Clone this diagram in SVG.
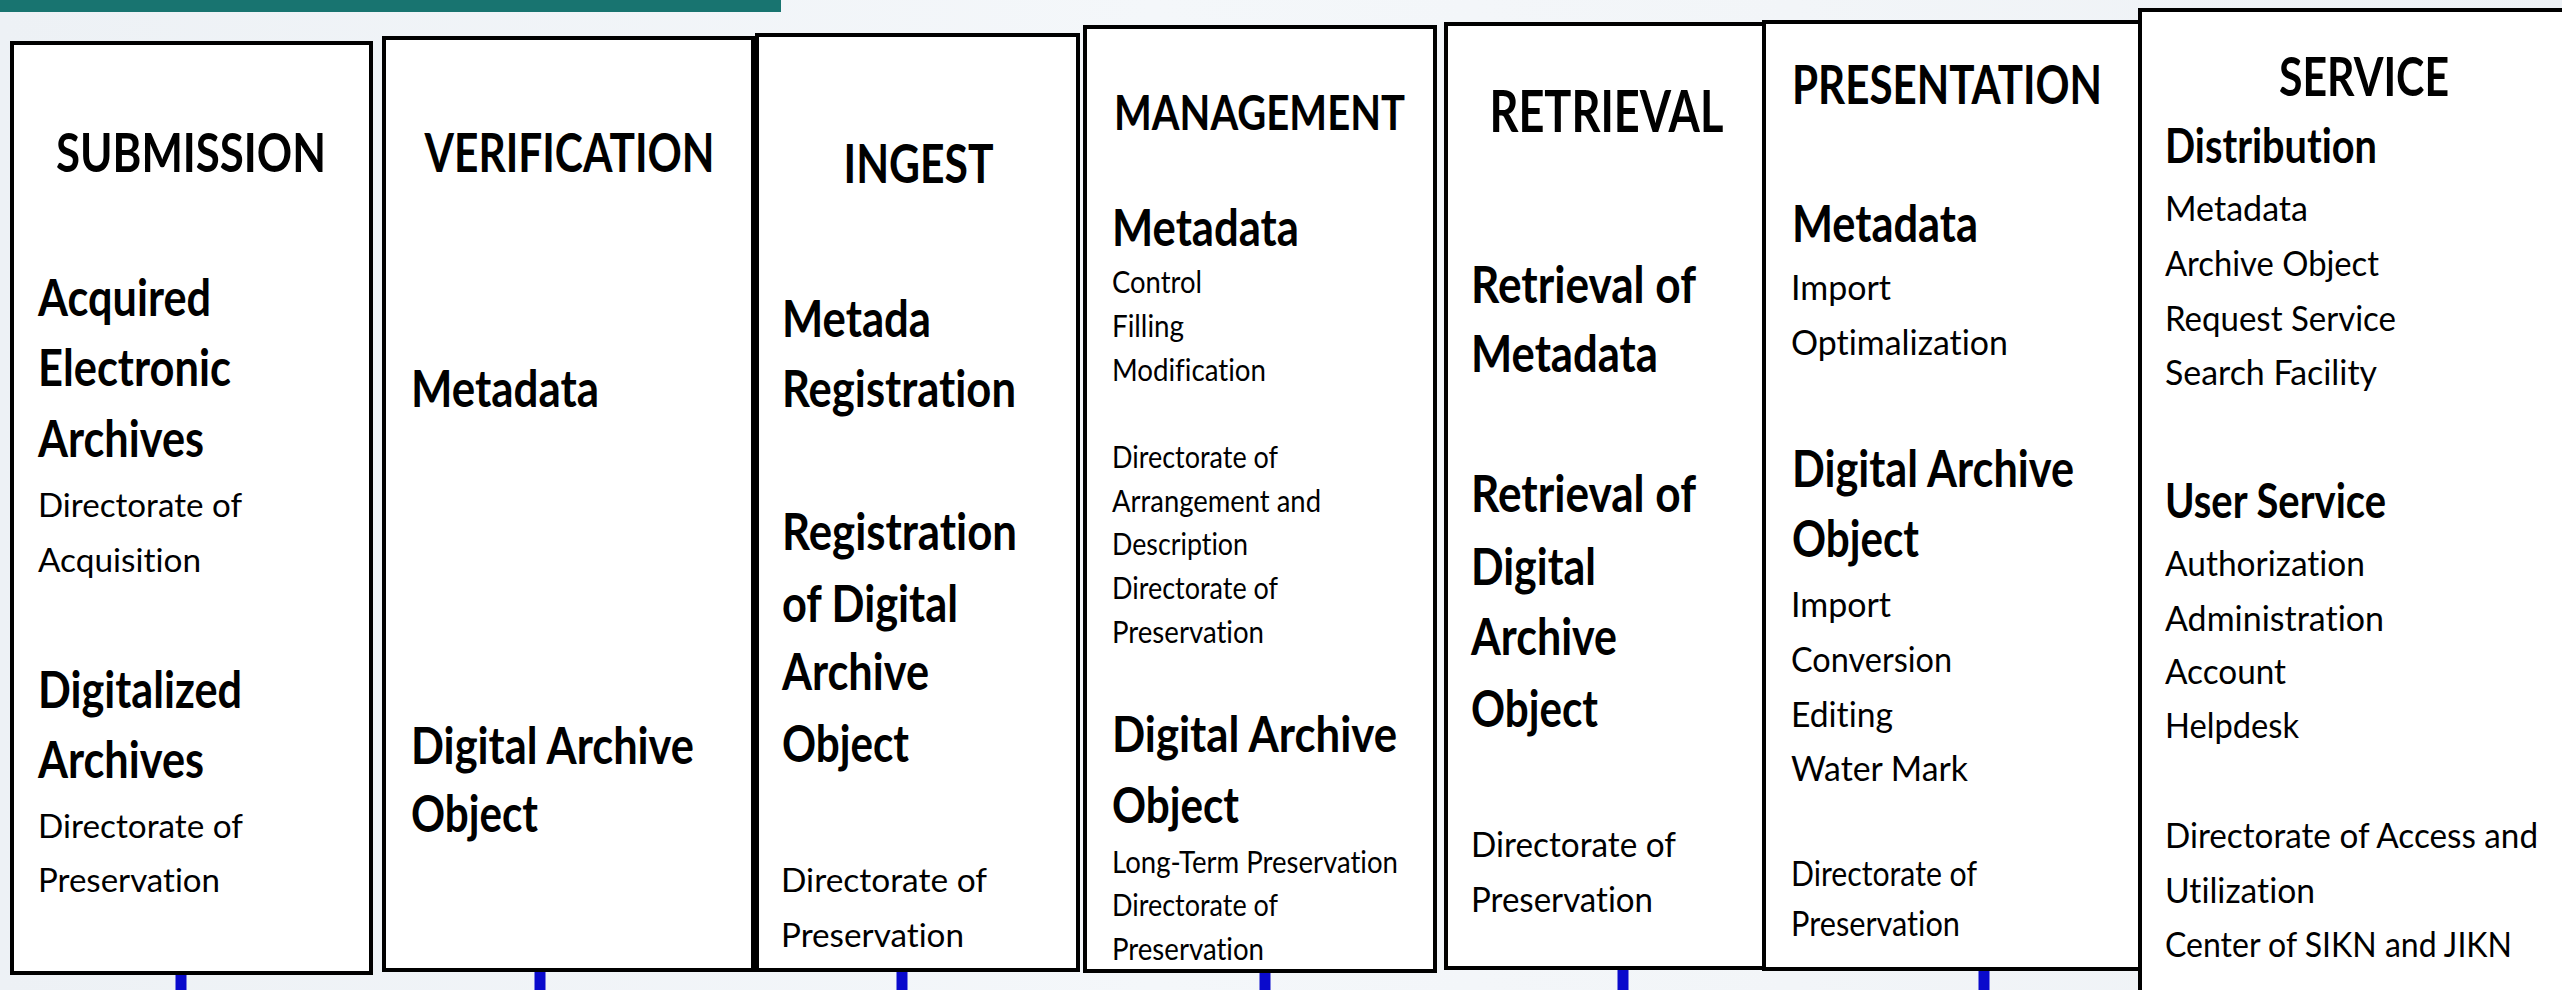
<svg xmlns="http://www.w3.org/2000/svg" width="2562" height="990" viewBox="0 0 2562 990">
<defs>
<linearGradient id="bg" x1="0" y1="0" x2="1" y2="0">
<stop offset="0" stop-color="#edf1f5"/>
<stop offset="0.45" stop-color="#f4f7fa"/>
<stop offset="0.7" stop-color="#f2f5f8"/>
<stop offset="1" stop-color="#edf1f5"/>
</linearGradient>
</defs>
<style>
.box{fill:#ffffff;stroke:#000000;stroke-width:4}
text{font-family:Lato,"Open Sans","Liberation Sans",sans-serif;fill:#000000;font-variant-ligatures:none;font-feature-settings:"liga" 0,"clig" 0,"dlig" 0}
.b{font-weight:700;font-size:52px}
.hd{font-weight:700;font-size:54px}
.r{font-weight:400;font-size:33px}
.rs{font-weight:400;font-size:31px}
.rp{font-weight:400;font-size:35px}
.link{stroke:#0a0acc;stroke-width:11;fill:none}
</style>
<rect x="0" y="0" width="2562" height="990" fill="url(#bg)"/>
<rect x="0" y="0" width="781" height="12" fill="#187470"/>

<g id="connectors">
<line class="link" x1="181" y1="975" x2="181" y2="990"/>
<line class="link" x1="540" y1="972" x2="540" y2="990"/>
<line class="link" x1="902" y1="972" x2="902" y2="990"/>
<line class="link" x1="1265" y1="973" x2="1265" y2="990"/>
<line class="link" x1="1623" y1="970" x2="1623" y2="990"/>
<line class="link" x1="1984" y1="971" x2="1984" y2="990"/>
</g>

<g id="submission">
<rect class="box" x="12" y="43" width="359" height="930"/>
<text class="hd" x="191" y="172" text-anchor="middle" textLength="270" lengthAdjust="spacingAndGlyphs">SUBMISSION</text>
<text class="b" x="38" y="316" textLength="173" lengthAdjust="spacingAndGlyphs">Acquired</text>
<text class="b" x="38" y="386" textLength="193" lengthAdjust="spacingAndGlyphs">Electronic</text>
<text class="b" x="38" y="457" textLength="166" lengthAdjust="spacingAndGlyphs">Archives</text>
<text class="r" x="38" y="517" textLength="204" lengthAdjust="spacingAndGlyphs">Directorate of</text>
<text class="r" x="38" y="572" textLength="163" lengthAdjust="spacingAndGlyphs">Acquisition</text>
<text class="b" x="38" y="708" textLength="204" lengthAdjust="spacingAndGlyphs">Digitalized</text>
<text class="b" x="38" y="778" textLength="166" lengthAdjust="spacingAndGlyphs">Archives</text>
<text class="r" x="38" y="838" textLength="205" lengthAdjust="spacingAndGlyphs">Directorate of</text>
<text class="r" x="38" y="892" textLength="182" lengthAdjust="spacingAndGlyphs">Preservation</text>
</g>

<g id="verification">
<rect class="box" x="384" y="38" width="369" height="932"/>
<text class="hd" x="569.5" y="172" text-anchor="middle" textLength="290" lengthAdjust="spacingAndGlyphs">VERIFICATION</text>
<text class="b" x="411" y="407" textLength="188" lengthAdjust="spacingAndGlyphs">Metadata</text>
<text class="b" x="411" y="764" textLength="283" lengthAdjust="spacingAndGlyphs">Digital Archive</text>
<text class="b" x="411" y="832" textLength="127" lengthAdjust="spacingAndGlyphs">Object</text>
</g>

<g id="ingest">
<rect class="box" x="757" y="35" width="321" height="935"/>
<text class="hd" x="918.6" y="183" text-anchor="middle" textLength="150" lengthAdjust="spacingAndGlyphs">INGEST</text>
<text class="b" x="782" y="337" textLength="149" lengthAdjust="spacingAndGlyphs">Metada</text>
<text class="b" x="782" y="407" textLength="234" lengthAdjust="spacingAndGlyphs">Registration</text>
<text class="b" x="782" y="550" textLength="235" lengthAdjust="spacingAndGlyphs">Registration</text>
<text class="b" x="782" y="622" textLength="176" lengthAdjust="spacingAndGlyphs">of Digital</text>
<text class="b" x="782" y="690" textLength="147" lengthAdjust="spacingAndGlyphs">Archive</text>
<text class="b" x="782" y="762" textLength="127" lengthAdjust="spacingAndGlyphs">Object</text>
<text class="r" x="781" y="892" textLength="206" lengthAdjust="spacingAndGlyphs">Directorate of</text>
<text class="r" x="781" y="947" textLength="183" lengthAdjust="spacingAndGlyphs">Preservation</text>
</g>

<g id="management">
<rect class="box" x="1085" y="27" width="350" height="944"/>
<text class="b" style="font-size:48px" x="1114" y="130" textLength="291" lengthAdjust="spacingAndGlyphs">MANAGEMENT</text>
<text class="b" x="1112" y="246" textLength="187" lengthAdjust="spacingAndGlyphs">Metadata</text>
<text class="rs" x="1112" y="293" textLength="90" lengthAdjust="spacingAndGlyphs">Control</text>
<text class="rs" x="1112" y="337" textLength="72" lengthAdjust="spacingAndGlyphs">Filling</text>
<text class="rs" x="1112" y="381" textLength="154" lengthAdjust="spacingAndGlyphs">Modification</text>
<text class="rs" x="1112" y="468" textLength="166" lengthAdjust="spacingAndGlyphs">Directorate of</text>
<text class="rs" x="1112" y="512" textLength="209" lengthAdjust="spacingAndGlyphs">Arrangement and</text>
<text class="rs" x="1112" y="555" textLength="136" lengthAdjust="spacingAndGlyphs">Description</text>
<text class="rs" x="1112" y="599" textLength="166" lengthAdjust="spacingAndGlyphs">Directorate of</text>
<text class="rs" x="1112" y="643" textLength="152" lengthAdjust="spacingAndGlyphs">Preservation</text>
<text class="b" style="font-size:50px" x="1112" y="752" textLength="285" lengthAdjust="spacingAndGlyphs">Digital Archive</text>
<text class="b" style="font-size:50px" x="1112" y="823" textLength="127" lengthAdjust="spacingAndGlyphs">Object</text>
<text class="rs" x="1112" y="873" textLength="286" lengthAdjust="spacingAndGlyphs">Long-Term Preservation</text>
<text class="rs" x="1112" y="916" textLength="166" lengthAdjust="spacingAndGlyphs">Directorate of</text>
<text class="rs" x="1112" y="960" textLength="152" lengthAdjust="spacingAndGlyphs">Preservation</text>
</g>

<g id="retrieval">
<rect class="box" x="1446" y="24" width="318" height="944"/>
<text class="b" style="font-size:58px" x="1606.4" y="132" text-anchor="middle" textLength="234" lengthAdjust="spacingAndGlyphs">RETRIEVAL</text>
<text class="b" x="1471" y="303" textLength="225" lengthAdjust="spacingAndGlyphs">Retrieval of</text>
<text class="b" x="1471" y="372" textLength="187" lengthAdjust="spacingAndGlyphs">Metadata</text>
<text class="b" x="1471" y="512" textLength="225" lengthAdjust="spacingAndGlyphs">Retrieval of</text>
<text class="b" x="1471" y="585" textLength="125" lengthAdjust="spacingAndGlyphs">Digital</text>
<text class="b" x="1471" y="655" textLength="146" lengthAdjust="spacingAndGlyphs">Archive</text>
<text class="b" x="1471" y="727" textLength="127" lengthAdjust="spacingAndGlyphs">Object</text>
<text class="rp" x="1471" y="857" textLength="205" lengthAdjust="spacingAndGlyphs">Directorate of</text>
<text class="rp" x="1471" y="912" textLength="182" lengthAdjust="spacingAndGlyphs">Preservation</text>
</g>

<g id="presentation">
<rect class="box" x="1764" y="22" width="376" height="947"/>
<text class="hd" x="1792" y="104" textLength="310" lengthAdjust="spacingAndGlyphs">PRESENTATION</text>
<text class="b" x="1792" y="242" textLength="186" lengthAdjust="spacingAndGlyphs">Metadata</text>
<text class="rp" x="1791" y="300" textLength="100" lengthAdjust="spacingAndGlyphs">Import</text>
<text class="rp" x="1791" y="355" textLength="217" lengthAdjust="spacingAndGlyphs">Optimalization</text>
<text class="b" x="1792" y="487" textLength="282" lengthAdjust="spacingAndGlyphs">Digital Archive</text>
<text class="b" x="1792" y="557" textLength="127" lengthAdjust="spacingAndGlyphs">Object</text>
<text class="rp" x="1791" y="617" textLength="100" lengthAdjust="spacingAndGlyphs">Import</text>
<text class="rp" x="1791" y="672" textLength="161" lengthAdjust="spacingAndGlyphs">Conversion</text>
<text class="rp" x="1791" y="727" textLength="102" lengthAdjust="spacingAndGlyphs">Editing</text>
<text class="rp" x="1791" y="781" textLength="177" lengthAdjust="spacingAndGlyphs">Water Mark</text>
<text class="rp" x="1791" y="886" textLength="186" lengthAdjust="spacingAndGlyphs">Directorate of</text>
<text class="rp" x="1791" y="936" textLength="169" lengthAdjust="spacingAndGlyphs">Preservation</text>
</g>

<g id="service">
<rect class="box" x="2140" y="10" width="500" height="1000"/>
<text class="hd" x="2364" y="96" text-anchor="middle" textLength="170" lengthAdjust="spacingAndGlyphs">SERVICE</text>
<text class="b" style="font-size:48px" x="2165" y="163" textLength="212" lengthAdjust="spacingAndGlyphs">Distribution</text>
<text class="r" style="font-size:34px" x="2165" y="221" textLength="143" lengthAdjust="spacingAndGlyphs">Metadata</text>
<text class="r" style="font-size:34px" x="2165" y="276" textLength="214" lengthAdjust="spacingAndGlyphs">Archive Object</text>
<text class="r" style="font-size:34px" x="2165" y="331" textLength="231" lengthAdjust="spacingAndGlyphs">Request Service</text>
<text class="r" style="font-size:34px" x="2165" y="385" textLength="212" lengthAdjust="spacingAndGlyphs">Search Facility</text>
<text class="b" style="font-size:48px" x="2165" y="518" textLength="221" lengthAdjust="spacingAndGlyphs">User Service</text>
<text class="r" style="font-size:34px" x="2165" y="576" textLength="200" lengthAdjust="spacingAndGlyphs">Authorization</text>
<text class="r" style="font-size:34px" x="2165" y="631" textLength="219" lengthAdjust="spacingAndGlyphs">Administration</text>
<text class="r" style="font-size:34px" x="2165" y="684" textLength="121" lengthAdjust="spacingAndGlyphs">Account</text>
<text class="r" style="font-size:34px" x="2165" y="738" textLength="134" lengthAdjust="spacingAndGlyphs">Helpdesk</text>
<text class="r" style="font-size:34px" x="2165" y="848" textLength="373" lengthAdjust="spacingAndGlyphs">Directorate of Access and</text>
<text class="r" style="font-size:34px" x="2165" y="903" textLength="150" lengthAdjust="spacingAndGlyphs">Utilization</text>
<text class="r" style="font-size:34px" x="2165" y="957" textLength="347" lengthAdjust="spacingAndGlyphs">Center of SIKN and JIKN</text>
</g>
</svg>
